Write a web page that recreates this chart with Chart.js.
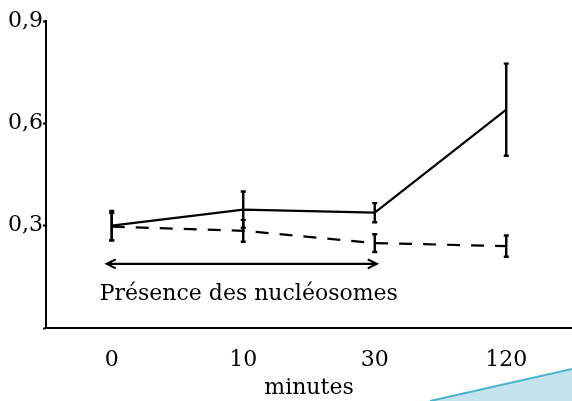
<!DOCTYPE html>
<html>
<head>
<meta charset="utf-8">
<script src="https://cdn.jsdelivr.net/npm/chart.js@4.4.1/dist/chart.umd.min.js"></script>
<style>
  html, body { margin: 0; padding: 0; background: #fff; }
  #wrap { width: 572px; height: 401px; position: relative; }
</style>
</head>
<body>
<div id="wrap"><canvas id="myChart"></canvas></div>
<script>
var minutes = ["0", "10", "30", "120"];
var avecNucleosomes = [0.300, 0.347, 0.338, 0.640];
var avecErreur = [0.043, 0.053, 0.028, 0.135];
var sansNucleosomes = [0.297, 0.285, 0.249, 0.240];
var sansErreur = [0.040, 0.032, 0.026, 0.031];
var yTicks = [0, 0.3, 0.6, 0.9];

// double fleche "Présence des nucléosomes" : de 0 a 30 minutes
var flecheDebut = 0, flecheFin = 2, flecheY = 0.188, texteY = 0.100;
var texteFleche = "Présence des nucléosomes";

var police = "'DejaVu Serif', serif";

var errorBars = {
    id: 'errorBars',
    afterDatasetsDraw: function(chart) {
        var c = chart.ctx, x = chart.scales.x, y = chart.scales.y;
        var series = [[avecNucleosomes, avecErreur], [sansNucleosomes, sansErreur]];
        c.save();
        c.strokeStyle = "#000";
        c.lineWidth = 2.4;
        series.forEach(function(s) {
            s[0].forEach(function(v, i) {
                var px = x.getPixelForValue(i);
                var top = y.getPixelForValue(v + s[1][i]);
                var bot = y.getPixelForValue(v - s[1][i]);
                c.beginPath();
                c.moveTo(px, top); c.lineTo(px, bot);
                c.moveTo(px - 2.5, top); c.lineTo(px + 2.5, top);
                c.moveTo(px - 2.5, bot); c.lineTo(px + 2.5, bot);
                c.stroke();
            });
        });

        // fleche double
        var ay = y.getPixelForValue(flecheY);
        var x1 = x.getPixelForValue(flecheDebut) - 5;
        var x2 = x.getPixelForValue(flecheFin) + 2;
        c.lineWidth = 2.2;
        c.beginPath();
        c.moveTo(x1, ay); c.lineTo(x2, ay);
        c.moveTo(x1 + 9, ay - 4.5); c.lineTo(x1, ay); c.lineTo(x1 + 9, ay + 4.5);
        c.moveTo(x2 - 9, ay - 4.5); c.lineTo(x2, ay); c.lineTo(x2 - 9, ay + 4.5);
        c.stroke();

        c.fillStyle = "#000";
        c.font = "22px " + police;
        c.textAlign = "center";
        c.textBaseline = "middle";
        c.fillText(texteFleche, (x1 + x2) / 2 + 7, y.getPixelForValue(texteY));
        c.restore();
    },
    afterDraw: function(chart) {
        // bandeau bleu decoratif en bas a droite
        var c = chart.ctx, w = chart.width, h = chart.height;
        c.save();
        c.beginPath();
        c.moveTo(w - 142, h);
        c.lineTo(w, h - 32);
        c.lineTo(w, h);
        c.closePath();
        c.fillStyle = "#c3e4ec";
        c.fill();
        c.beginPath();
        c.moveTo(w - 142, h);
        c.lineTo(w, h - 32);
        c.strokeStyle = "#4cb3cf";
        c.lineWidth = 2;
        c.stroke();
        c.restore();
    }
};

var ctx = document.getElementById("myChart");

new Chart(ctx, {
    type: 'line',
    data: {
        labels: minutes,
        datasets: [{
            label: "avec",
            data: avecNucleosomes,
            borderColor: "#000",
            borderWidth: 2.2,
            pointRadius: 0,
            tension: 0,
            fill: false
        }, {
            label: "sans",
            data: sansNucleosomes,
            borderColor: "#000",
            borderWidth: 2.2,
            borderDash: [13, 11],
            pointRadius: 0,
            tension: 0,
            fill: false
        }]
    },
    options: {
        responsive: true,
        maintainAspectRatio: false,
        animation: false,
        layout: {
            padding: { left: 0, right: 0, top: 21, bottom: 0 }
        },
        scales: {
            x: {
                offset: true,
                grid: { display: false, drawTicks: false },
                border: { display: true, color: "#000", width: 2 },
                ticks: {
                    color: "#000",
                    font: { family: police, size: 22 },
                    padding: 19,
                    maxRotation: 0
                },
                title: {
                    display: true,
                    text: "minutes",
                    color: "#000",
                    font: { family: police, size: 22 },
                    padding: { top: 0, bottom: 0 }
                },
                afterFit: function(scale) { scale.height = 73; }
            },
            y: {
                min: 0,
                max: 0.9,
                afterBuildTicks: function(scale) {
                    scale.ticks = yTicks.map(function(v) { return { value: v }; });
                },
                grid: {
                    drawOnChartArea: false,
                    drawTicks: true,
                    tickLength: 3,
                    tickWidth: 2,
                    color: "#000"
                },
                border: { display: true, color: "#000", width: 2 },
                ticks: {
                    color: "#000",
                    font: { family: police, size: 22 },
                    padding: 0,
                    callback: function(value) {
                        if (value === 0) return "";
                        return value.toFixed(1).replace(".", ",");
                    }
                },
                afterFit: function(scale) { scale.width = 46; }
            }
        },
        plugins: {
            legend: { display: false },
            tooltip: { enabled: false }
        }
    },
    plugins: [errorBars]
});
</script>
</body>
</html>
